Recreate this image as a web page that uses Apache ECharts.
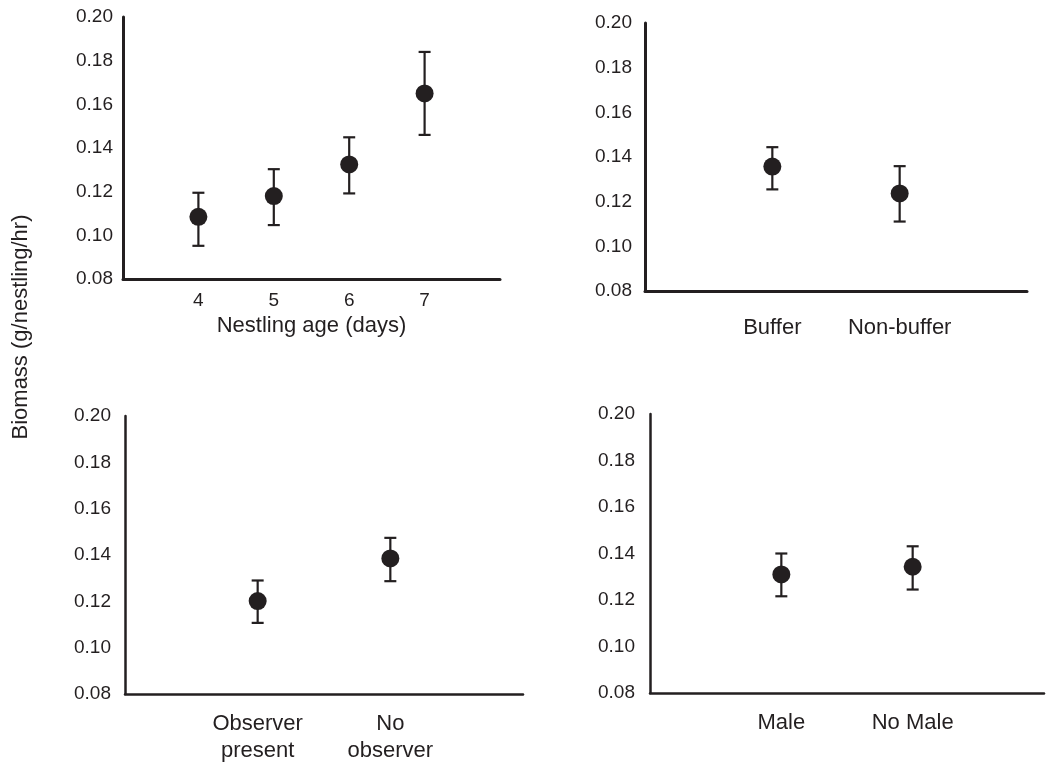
<!DOCTYPE html>
<html>
<head>
<meta charset="utf-8">
<script src="https://cdn.jsdelivr.net/npm/echarts@6/dist/echarts.min.js"></script>
<style>
  html, body { margin: 0; padding: 0; background: #fff; }
  #chart { width: 1047px; height: 765px; }
</style>
</head>
<body>
<div id="chart"></div>
<script>
// 图表数据
const yTicks = [0.08, 0.10, 0.12, 0.14, 0.16, 0.18, 0.20];

// panel 1: nestling age
const ageDays = [4, 5, 6, 7];
const ageMean = [0.1085, 0.118, 0.1325, 0.165];
const ageLow = [0.0952, 0.1047, 0.1192, 0.146];
const ageHigh = [0.1195, 0.1303, 0.1449, 0.184];

// panel 2: buffer
const bufferCats = ['Buffer', 'Non-buffer'];
const bufferMean = [0.1357, 0.1237];
const bufferLow = [0.1255, 0.1111];
const bufferHigh = [0.1444, 0.1359];

// panel 3: observer
const observerCats = ['Observer\npresent', 'No\nobserver'];
const observerMean = [0.1201, 0.1385];
const observerLow = [0.1107, 0.1287];
const observerHigh = [0.129, 0.1474];

// panel 4: male
const maleCats = ['Male', 'No Male'];
const maleMean = [0.131, 0.1343];
const maleLow = [0.1216, 0.1245];
const maleHigh = [0.14, 0.1431];

const ink = '#231f20';
const font = '"Liberation Sans", Arial, Helvetica, sans-serif';

const chart = echarts.init(document.getElementById('chart'));

// error bar with caps
function errorBar(params, api) {
    const x = api.value(0);
    const lo = api.coord([x, api.value(1)]);
    const hi = api.coord([x, api.value(2)]);
    const w = 6;
    const style = { stroke: ink, lineWidth: 2.2 };
    return {
        type: 'group',
        children: [
            { type: 'line', shape: { x1: lo[0], y1: lo[1], x2: hi[0], y2: hi[1] }, style: style },
            { type: 'line', shape: { x1: lo[0] - w, y1: lo[1], x2: lo[0] + w, y2: lo[1] }, style: style },
            { type: 'line', shape: { x1: hi[0] - w, y1: hi[1], x2: hi[0] + w, y2: hi[1] }, style: style }
        ]
    };
}

const grids = [
    { left: 123, top: 17, width: 377, height: 262 },
    { left: 645, top: 23, width: 382, height: 268 },
    { left: 125, top: 416, width: 398, height: 278 },
    { left: 650, top: 414, width: 397, height: 279 }
];
const yMargins = [10, 13, 14, 15];
const lineWidths = [3, 3, 2.5, 2.5];

const yAxes = grids.map((g, i) => ({
    type: 'value',
    gridIndex: i,
    min: yTicks[0],
    max: yTicks[yTicks.length - 1],
    interval: 0.02,
    splitLine: { show: false },
    axisTick: { show: false },
    axisLine: { show: true, lineStyle: { color: ink, width: lineWidths[i] } },
    axisLabel: {
        margin: yMargins[i],
        color: ink,
        fontSize: 19,
        fontFamily: font,
        formatter: v => v.toFixed(2)
    }
}));

function catAxis(i, cats, margin) {
    return {
        type: 'value',
        gridIndex: i,
        min: 0,
        max: 3,
        interval: 1,
        splitLine: { show: false },
        axisTick: { show: false },
        axisLine: { show: true, lineStyle: { color: ink, width: lineWidths[i] } },
        axisLabel: {
            margin: margin,
            color: ink,
            fontSize: 22,
            lineHeight: 27,
            fontFamily: font,
            formatter: v => cats[v - 1] || ''
        }
    };
}

const xAxes = [
    {
        type: 'value',
        gridIndex: 0,
        min: 3,
        max: 8,
        interval: 1,
        splitLine: { show: false },
        axisTick: { show: false },
        axisLine: { show: true, lineStyle: { color: ink, width: 3 } },
        axisLabel: {
            margin: 12,
            color: ink,
            fontSize: 19,
            fontFamily: font,
            formatter: v => (ageDays.indexOf(v) >= 0 ? String(v) : '')
        },
        name: 'Nestling age (days)',
        nameLocation: 'middle',
        nameGap: 36,
        nameTextStyle: { color: ink, fontSize: 22, fontFamily: font }
    },
    catAxis(1, bufferCats, 23),
    catAxis(2, observerCats, 16),
    catAxis(3, maleCats, 16)
];

function panelSeries(i, xs, mean, low, high) {
    return [
        {
            type: 'custom',
            xAxisIndex: i,
            yAxisIndex: i,
            renderItem: errorBar,
            data: xs.map((x, k) => [x, low[k], high[k]]),
            z: 2
        },
        {
            type: 'scatter',
            xAxisIndex: i,
            yAxisIndex: i,
            symbolSize: 18,
            itemStyle: { color: ink, opacity: 1 },
            data: xs.map((x, k) => [x, mean[k]]),
            z: 3
        }
    ];
}

const option = {
    backgroundColor: '#fff',
    animation: false,
    grid: grids,
    xAxis: xAxes,
    yAxis: yAxes,
    graphic: [{
        type: 'text',
        x: 21,
        y: 327,
        rotation: Math.PI / 2,
        style: {
            text: 'Biomass (g/nestling/hr)',
            fill: ink,
            fontSize: 22,
            fontFamily: font,
            align: 'center',
            verticalAlign: 'middle'
        }
    }],
    series: [].concat(
        panelSeries(0, ageDays, ageMean, ageLow, ageHigh),
        panelSeries(1, [1, 2], bufferMean, bufferLow, bufferHigh),
        panelSeries(2, [1, 2], observerMean, observerLow, observerHigh),
        panelSeries(3, [1, 2], maleMean, maleLow, maleHigh)
    )
};

chart.setOption(option);
window.addEventListener('resize', function () {
    chart.resize();
});
</script>
</body>
</html>
